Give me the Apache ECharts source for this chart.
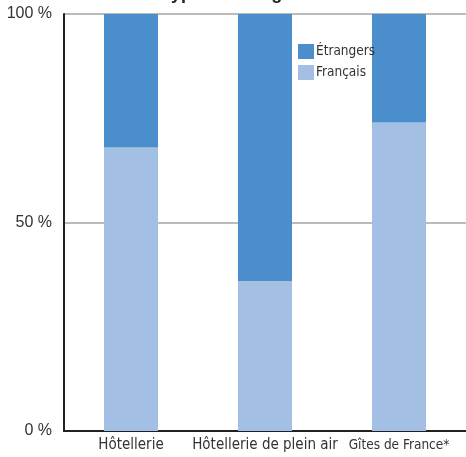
<!DOCTYPE html>
<html>
<head>
<meta charset="utf-8">
<script src="https://cdn.jsdelivr.net/npm/echarts@6/dist/echarts.min.js"></script>
<style>
  html, body { margin: 0; padding: 0; background: #fff; }
  #chart { width: 466px; height: 457px; }
</style>
</head>
<body>
<div id="chart"></div>
<script>
// catégories et parts (%)
const categories = ['Hôtellerie', 'Hôtellerie de plein air', 'Gîtes de France*']
const francais = [68, 36, 74]
const etrangers = [32, 64, 26]

const narrow = "'DejaVu Sans Condensed', 'Liberation Sans Narrow', sans-serif"

const chart = echarts.init(document.getElementById('chart'))

const option = {
  animation: false,
  title: {
    text: "selon le type d'hébergement",
    left: 88,
    top: -20,
    textStyle: { fontFamily: 'Liberation Sans', fontWeight: 'bold', fontSize: 18, color: '#222' }
  },
  legend: {
    orient: 'vertical',
    left: 293,
    top: 39,
    itemWidth: 16,
    itemHeight: 15,
    itemGap: 6,
    icon: 'rect',
    data: ['Étrangers', 'Français'],
    textStyle: { fontFamily: narrow, fontSize: 13.5, color: '#333', padding: [0, 0, 0, -3] }
  },
  grid: { left: 64, right: 0, top: 14, bottom: 26 },
  xAxis: {
    type: 'category',
    data: categories,
    axisTick: { show: false },
    axisLine: { lineStyle: { color: '#222', width: 2 } },
    axisLabel: {
      interval: 0, fontFamily: narrow, fontSize: 15, color: '#333', margin: 7,
      // le dernier libellé est plus serré dans l'original
      formatter: (v, i) => i === 2 ? '{g|' + v + '}' : v,
      rich: { g: { fontFamily: narrow, fontSize: 13.5, color: '#333' } }
    }
  },
  yAxis: {
    type: 'value',
    min: 0,
    max: 100,
    interval: 50,
    axisLine: { show: true, lineStyle: { color: '#222', width: 2 } },
    axisTick: { show: false },
    splitLine: { lineStyle: { color: '#bbb', width: 2 } },
    axisLabel: { formatter: '{value} %', fontFamily: 'Liberation Sans', fontSize: 16, color: '#333', margin: 12 }
  },
  series: [
    {
      name: 'Français',
      type: 'bar',
      stack: 'total',
      barWidth: 54,
      itemStyle: { color: '#a3bfe3' },
      data: francais
    },
    {
      name: 'Étrangers',
      type: 'bar',
      stack: 'total',
      barWidth: 54,
      itemStyle: { color: '#4a8ecc' },
      data: etrangers
    }
  ]
}
chart.setOption(option)
</script>
</body>
</html>
